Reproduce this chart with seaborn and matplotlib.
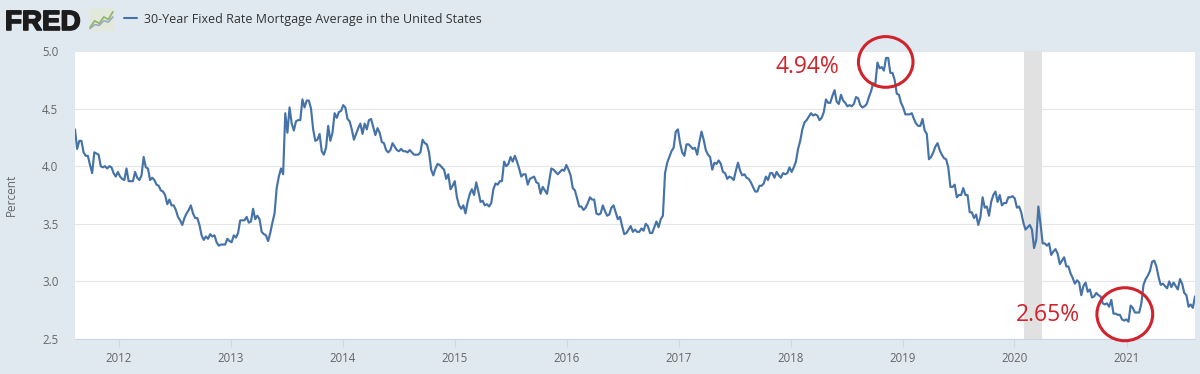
import numpy as np
import pandas as pd
import matplotlib
matplotlib.use("Agg")
import matplotlib.pyplot as plt
import matplotlib.dates as mdates
import matplotlib.patheffects as pe
from matplotlib.patches import Ellipse
from matplotlib.ticker import FormatStrFormatter
import seaborn as sns

# ---------------- data (weekly, Thursdays, from 2011-08-11) ----------------
series_name = "30-Year Fixed Rate Mortgage Average in the United States"
start_date = "2011-08-11"
rate_2011 = [4.32, 4.15, 4.22, 4.22, 4.12, 4.09, 4.09, 4.01, 3.94, 4.12, 4.11, 4.10,
             4.00, 3.99, 4.00, 3.98, 4.00, 3.99, 3.94, 3.91, 3.95]
rate_2012 = [3.91, 3.89, 3.88, 3.98, 3.87, 3.87, 3.87, 3.95, 3.90, 3.88, 3.92, 4.08, 3.99,
             3.98, 3.88, 3.90, 3.88, 3.84, 3.83, 3.79, 3.78, 3.75, 3.67, 3.71, 3.66, 3.66,
             3.62, 3.56, 3.53, 3.49, 3.55, 3.59, 3.62, 3.66, 3.59, 3.55, 3.55, 3.49, 3.40,
             3.36, 3.39, 3.37, 3.41, 3.39, 3.40, 3.34, 3.31, 3.32, 3.32, 3.32, 3.37, 3.35]
rate_2013 = [3.34, 3.40, 3.38, 3.42, 3.53, 3.53, 3.53, 3.56, 3.51, 3.52, 3.63, 3.54, 3.57,
             3.54, 3.43, 3.41, 3.40, 3.35, 3.42, 3.51, 3.59, 3.81, 3.91, 3.98, 3.93, 4.46,
             4.29, 4.51, 4.37, 4.31, 4.39, 4.40, 4.40, 4.58, 4.51, 4.57, 4.57, 4.50, 4.32,
             4.22, 4.23, 4.28, 4.13, 4.10, 4.16, 4.35, 4.22, 4.29, 4.46, 4.42, 4.47, 4.48]
rate_2014 = [4.53, 4.51, 4.41, 4.39, 4.32, 4.23, 4.28, 4.33, 4.37, 4.28, 4.37, 4.32, 4.40,
             4.41, 4.34, 4.27, 4.33, 4.29, 4.21, 4.20, 4.14, 4.12, 4.14, 4.20, 4.17, 4.14,
             4.13, 4.15, 4.13, 4.13, 4.12, 4.14, 4.12, 4.10, 4.10, 4.10, 4.12, 4.23, 4.20,
             4.19, 4.12, 3.97, 3.92, 3.98, 4.02, 4.01, 3.99, 3.97, 3.89, 3.93, 3.80, 3.83]
rate_2015 = [3.87, 3.73, 3.66, 3.63, 3.66, 3.59, 3.69, 3.76, 3.80, 3.75, 3.86, 3.78, 3.69,
             3.70, 3.66, 3.67, 3.65, 3.68, 3.80, 3.85, 3.84, 3.87, 3.87, 4.04, 4.00, 4.02,
             4.08, 4.04, 4.09, 4.04, 3.98, 3.91, 3.93, 3.93, 3.84, 3.89, 3.90, 3.91, 3.86,
             3.85, 3.76, 3.82, 3.79, 3.76, 3.87, 3.98, 3.97, 3.95, 3.93, 3.95, 3.97, 3.96, 4.01]
rate_2016 = [3.97, 3.92, 3.81, 3.79, 3.72, 3.65, 3.65, 3.62, 3.64, 3.68, 3.73, 3.71, 3.71,
             3.59, 3.58, 3.59, 3.66, 3.61, 3.57, 3.58, 3.64, 3.66, 3.60, 3.54, 3.56, 3.48,
             3.41, 3.42, 3.45, 3.48, 3.43, 3.45, 3.43, 3.43, 3.46, 3.44, 3.50, 3.48, 3.42,
             3.42, 3.47, 3.52, 3.47, 3.54, 3.57, 3.94, 4.03, 4.08, 4.13, 4.16, 4.30, 4.32]
rate_2017 = [4.20, 4.12, 4.09, 4.19, 4.19, 4.17, 4.15, 4.16, 4.10, 4.21, 4.30, 4.23, 4.14,
             4.10, 4.08, 3.97, 4.03, 4.02, 4.05, 4.02, 3.95, 3.94, 3.89, 3.91, 3.90, 3.88,
             3.96, 4.03, 3.96, 3.92, 3.93, 3.90, 3.89, 3.86, 3.82, 3.78, 3.78, 3.83, 3.83,
             3.85, 3.91, 3.88, 3.94, 3.94, 3.90, 3.95, 3.92, 3.90, 3.94, 3.93, 3.94, 3.99]
rate_2018 = [3.95, 3.99, 4.04, 4.15, 4.22, 4.32, 4.38, 4.40, 4.43, 4.46, 4.44, 4.45, 4.44,
             4.40, 4.42, 4.47, 4.58, 4.55, 4.55, 4.61, 4.66, 4.56, 4.54, 4.62, 4.57, 4.55,
             4.52, 4.53, 4.52, 4.54, 4.60, 4.59, 4.53, 4.51, 4.52, 4.54, 4.60, 4.65, 4.72,
             4.71, 4.90, 4.85, 4.86, 4.83, 4.94, 4.94, 4.81, 4.81, 4.75, 4.63, 4.62, 4.55]
rate_2019 = [4.51, 4.45, 4.45, 4.45, 4.46, 4.41, 4.37, 4.35, 4.35, 4.41, 4.31, 4.28, 4.06,
             4.08, 4.12, 4.17, 4.20, 4.14, 4.10, 4.07, 4.06, 3.99, 3.82, 3.82, 3.84, 3.73,
             3.75, 3.75, 3.81, 3.75, 3.75, 3.60, 3.60, 3.55, 3.58, 3.49, 3.56, 3.73, 3.64,
             3.65, 3.57, 3.69, 3.75, 3.78, 3.69, 3.75, 3.66, 3.68, 3.68, 3.73, 3.73, 3.74]
rate_2020 = [3.72, 3.64, 3.65, 3.60, 3.51, 3.45, 3.47, 3.49, 3.45, 3.29, 3.36, 3.65, 3.50,
             3.33, 3.33, 3.31, 3.33, 3.23, 3.26, 3.28, 3.24, 3.15, 3.18, 3.21, 3.13, 3.13,
             3.07, 3.03, 2.98, 3.01, 2.99, 2.88, 2.96, 2.99, 2.91, 2.93, 2.86, 2.87, 2.90,
             2.88, 2.87, 2.81, 2.80, 2.81, 2.78, 2.84, 2.72, 2.72, 2.71, 2.71, 2.67, 2.66, 2.67]
rate_2021 = [2.65, 2.79, 2.77, 2.73, 2.73, 2.73, 2.81, 2.97, 3.02, 3.05, 3.09, 3.17,
             3.18, 3.13, 3.04, 2.97, 2.98, 2.96, 2.94, 3.00, 2.95, 2.99, 2.96, 2.93, 3.02,
             2.98, 2.90, 2.88, 2.78, 2.80, 2.77, 2.87]

recession_start = "2020-02-01"
recession_end = "2020-04-01"
y_ticks = [2.5, 3.0, 3.5, 4.0, 4.5, 5.0]
y_label = "Percent"
peak_label = "4.94%"
trough_label = "2.65%"
logo_text = "FRED"
icon_green = [0.15, 0.40, 0.30, 0.55, 0.45, 0.75]
icon_blue = [0.10, 0.25, 0.22, 0.40, 0.35, 0.55]

rates = (rate_2011 + rate_2012 + rate_2013 + rate_2014 + rate_2015 + rate_2016 +
         rate_2017 + rate_2018 + rate_2019 + rate_2020 + rate_2021)
dates = pd.date_range(start_date, periods=len(rates), freq="7D")
df = pd.DataFrame({"date": dates, "rate": rates})

# ---------------- styling ----------------
sns.set_theme(style="white")
plt.rcParams["font.family"] = ["Open Sans", "DejaVu Sans"]

BG = "#e1e9f0"
LINE = "#4572a7"
RED = "#d0232c"
W, H = 1200, 374

fig = plt.figure(figsize=(W / 100, H / 100), dpi=100, facecolor=BG)
L, R, T, B = 75, 1195, 51, 339
ax = fig.add_axes([L / W, 1 - B / H, (R - L) / W, (B - T) / H])
ax.set_facecolor("white")

sns.lineplot(data=df, x="date", y="rate", color=LINE, linewidth=1.55,
             ax=ax, label=series_name, zorder=3)

ax.axvspan(pd.Timestamp(recession_start), pd.Timestamp(recession_end),
           color="#e1e1e1", lw=0, zorder=1)

ax.set_xlim(dates[0], dates[-1])
ax.set_ylim(y_ticks[0], y_ticks[-1])
ax.set_yticks(y_ticks)
ax.yaxis.set_major_formatter(FormatStrFormatter("%.1f"))
ax.xaxis.set_major_locator(mdates.YearLocator())
ax.xaxis.set_major_formatter(mdates.DateFormatter("%Y"))

ax.set_axisbelow(True)
ax.grid(axis="y", color="#e6e6e6", linewidth=0.8)
ax.grid(axis="x", visible=False)
for s in ["top", "right", "left"]:
    ax.spines[s].set_visible(False)
ax.spines["bottom"].set_color("#ccd6eb")
ax.spines["bottom"].set_linewidth(0.8)

ax.tick_params(axis="x", bottom=True, length=6, width=0.8, color="#ccd6eb",
               labelsize=8.3, labelcolor="#666666", pad=3)
ax.tick_params(axis="y", left=False, length=0, labelsize=8.3,
               labelcolor="#666666", pad=12)
ax.set_xlabel("")
ax.set_ylabel(y_label, fontsize=8.5, color="#666666")
ax.yaxis.set_label_coords(-(L - 18) / (R - L), 0.5)

# legend in header
ax.get_legend().remove()
handles, labels = ax.get_legend_handles_labels()
leg = fig.legend(handles, labels, loc="center left",
                 bbox_to_anchor=(124 / W, 1 - 19 / H), frameon=False,
                 fontsize=9.0, handlelength=1.05, handletextpad=0.55,
                 borderpad=0, borderaxespad=0)
for t in leg.get_texts():
    t.set_color("#333333")
for h in leg.legend_handles:
    h.set_linewidth(1.5)

# FRED logo
fig.text(5 / W, 1 - 30 / H, logo_text, fontsize=20, fontweight="bold",
         family="Liberation Sans", color="#1c1c1c", va="baseline", ha="left",
         path_effects=[pe.withStroke(linewidth=1.2, foreground="#1c1c1c")])
iax = fig.add_axes([89 / W, 1 - 31 / H, 25 / W, 23 / H])
iax.set_facecolor("#e3e8dd")
iax.plot(icon_blue, color="#9aabbf", lw=1.2)
iax.plot(icon_green, color="#8db56a", lw=1.2)
iax.set_ylim(0, 0.9)
iax.set_xticks([])
iax.set_yticks([])
for s in iax.spines.values():
    s.set_visible(False)

# annotations: peak and trough
imax = int(np.argmax(rates))
imin = int(np.argmin(rates))
peak_x, peak_y = mdates.date2num(dates[imax]), rates[imax]
low_x, low_y = mdates.date2num(dates[imin]), rates[imin]

ax.add_patch(Ellipse((peak_x - 1, peak_y - 0.035), 178, 0.44, fill=False,
                     ec=RED, lw=2.2, clip_on=False, zorder=5))
ax.add_patch(Ellipse((low_x - 12, low_y + 0.065), 182, 0.46, fill=False,
                     ec=RED, lw=2.2, clip_on=False, zorder=5))
ax.annotate(peak_label, (peak_x, peak_y), xytext=(-34, -6.3),
            textcoords="offset points", ha="right", va="center",
            fontsize=16.5, color=RED)
ax.annotate(trough_label, (low_x, low_y), xytext=(-35, 4.8),
            textcoords="offset points", ha="right", va="center",
            fontsize=16.5, color=RED)

fig.savefig("out.png", dpi=100, facecolor=BG)
